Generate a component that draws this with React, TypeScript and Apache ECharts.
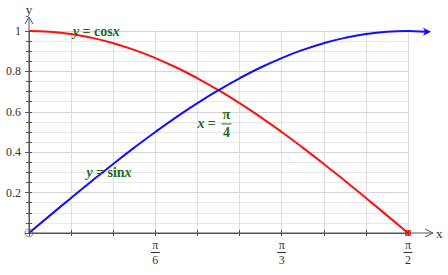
import React, { useEffect, useRef } from "react";
import * as echarts from "echarts";

// x in degrees (axis runs 0..90 = 0..π/2)
const ANGLES = [0, 5, 10, 15, 20, 25, 30, 35, 40, 45, 50, 55, 60, 65, 70, 75, 80, 85, 90];
const SIN_VALUES = [0, 0.0872, 0.1736, 0.2588, 0.342, 0.4226, 0.5, 0.5736, 0.6428, 0.7071, 0.766, 0.8192, 0.866, 0.9063, 0.9397, 0.9659, 0.9848, 0.9962, 1];
const COS_VALUES = [1, 0.9962, 0.9848, 0.9659, 0.9397, 0.9063, 0.866, 0.8192, 0.766, 0.7071, 0.6428, 0.5736, 0.5, 0.4226, 0.342, 0.2588, 0.1736, 0.0872, 0];
const SIN_TAIL: [number, number] = [95, 0.9962];
const X_TICK_LABELS: Record<number, string> = { 30: "6", 60: "3", 90: "2" };
const Y_TICK_LABELS: Record<string, string> = { "0.2": "0.2", "0.4": "0.4", "0.6": "0.6", "0.8": "0.8", "1": "1" };

const SERIF = "'Liberation Serif', 'DejaVu Serif', serif";
const GREEN = "#1e6b1e";
const AXIS = "#555";
const BLUE = "#1010ff";
const RED = "#ff1010";

export default function App() {
  const ref = useRef<HTMLDivElement>(null);
  useEffect(() => {
    if (!ref.current) return;
    const chart = echarts.init(ref.current, null, { renderer: "svg" });
    const sinData = ANGLES.map((a, i) => [a, SIN_VALUES[i]]);
    const cosData = ANGLES.map((a, i) => [a, COS_VALUES[i]]);

    const fracRich = {
      n: { fontFamily: SERIF, fontSize: 12, color: "#333", lineHeight: 12, align: "center" as const },
      bar: { width: 9, height: 1, lineHeight: 3, backgroundColor: "#333", align: "center" as const },
      d: { fontFamily: SERIF, fontSize: 12, color: "#333", lineHeight: 12, align: "center" as const },
    };

    const xBase = { type: "value", min: 0, max: 90, interval: 10, position: "bottom" };
    const yBase = { type: "value", min: 0, max: 1, interval: 0.2, position: "left" };

    chart.setOption({
      animation: false,
      grid: { left: 29, right: 40, top: 31, bottom: 42 },
      xAxis: [
        {
          ...xBase,
          name: "x",
          nameLocation: "end",
          nameGap: 28,
          nameTextStyle: { fontFamily: SERIF, fontSize: 13, color: "#333", verticalAlign: "middle" },
          axisLine: { show: true, lineStyle: { color: AXIS, width: 1 } },
          axisTick: { show: true, inside: false, length: 3, lineStyle: { color: AXIS } },
          axisLabel: {
            margin: 6,
            formatter: (v: number) => (X_TICK_LABELS[v] ? `{n|π}\n{bar| }\n{d|${X_TICK_LABELS[v]}}` : ""),
            rich: fracRich,
          },
          splitLine: { show: true, lineStyle: { color: "#dedede", width: 1 } },
        },
        {
          ...xBase,
          axisLine: { show: false },
          axisTick: { show: true, inside: true, length: 3, lineStyle: { color: AXIS } },
          axisLabel: { show: false },
          splitLine: { show: false },
        },
      ],
      yAxis: [
        {
          ...yBase,
          name: "y",
          nameLocation: "end",
          nameGap: 15,
          nameTextStyle: { fontFamily: SERIF, fontSize: 13, color: "#333", align: "center" },
          axisLine: { show: true, lineStyle: { color: AXIS, width: 1 } },
          axisTick: { show: true, inside: false, length: 4, lineStyle: { color: AXIS } },
          minorTick: { show: true, splitNumber: 4, length: 3, lineStyle: { color: AXIS } },
          axisLabel: {
            margin: 8,
            fontFamily: SERIF,
            fontSize: 12,
            color: "#333",
            formatter: (v: number) => Y_TICK_LABELS[String(Math.round(v * 10) / 10)] || "",
          },
          splitLine: { show: true, lineStyle: { color: "#d4d4d4", width: 1 } },
          minorSplitLine: { show: true, lineStyle: { color: "#e8e8e8", width: 1 } },
        },
        {
          ...yBase,
          axisLine: { show: false },
          axisTick: { show: true, inside: true, length: 3, lineStyle: { color: AXIS } },
          minorTick: { show: true, splitNumber: 4, length: 3, lineStyle: { color: AXIS } },
          axisLabel: { show: false },
          splitLine: { show: false },
        },
      ],
      series: [
        {
          type: "line",
          data: cosData,
          smooth: true,
          symbol: "none",
          clip: false,
          lineStyle: { color: RED, width: 2 },
          z: 3,
        },
        {
          type: "line",
          data: sinData,
          smooth: true,
          symbol: "none",
          clip: false,
          lineStyle: { color: BLUE, width: 2 },
          z: 3,
        },
        {
          type: "scatter",
          clip: false,
          data: [cosData[cosData.length - 1]],
          symbol: "rect",
          symbolSize: 6,
          itemStyle: { color: RED },
          z: 4,
        },
        {
          type: "scatter",
          clip: false,
          data: [sinData[0]],
          symbol: "circle",
          symbolSize: 8,
          itemStyle: { color: "rgba(255,255,255,0)", borderColor: "#666", borderWidth: 1 },
          z: 4,
        },
      ],
    });

    const px = (p: number[]) => chart.convertToPixel({ gridIndex: 0 }, p) as number[];
    const o = px([0, 0]);
    const xe = px([90, 0]);
    const ye = px([0, 1]);
    const xEnd = xe[0] + 25;
    const yEnd = ye[1] - 14;
    const cosLbl = px([16, 1]);
    const sinLbl = px([19, 0.3]);
    const eqLbl = px([40, 0.54]);
    const t0 = px(sinData[sinData.length - 1]);
    const t1 = px(SIN_TAIL);
    const lineStyle = { stroke: AXIS, lineWidth: 1, fill: "none" };
    const greenRich = {
      i: { fontFamily: SERIF, fontSize: 14, fontWeight: "bold", fontStyle: "italic", fill: GREEN },
      b: { fontFamily: SERIF, fontSize: 14, fontWeight: "bold", fill: GREEN },
    };
    chart.setOption({
      graphic: [
        { type: "polyline", shape: { points: [[o[0], o[1]], [xEnd, o[1]]] }, style: lineStyle, z: 10 },
        { type: "polyline", shape: { points: [[xEnd - 8, o[1] - 4], [xEnd, o[1]], [xEnd - 8, o[1] + 4]] }, style: lineStyle, z: 10 },
        { type: "polyline", shape: { points: [[o[0], o[1]], [o[0], yEnd]] }, style: lineStyle, z: 10 },
        { type: "polyline", shape: { points: [[o[0] - 4, yEnd + 7], [o[0], yEnd], [o[0] + 4, yEnd + 7]] }, style: lineStyle, z: 10 },
        {
          type: "polyline",
          shape: { points: [[t0[0], t0[1]], [t1[0] - 3, t1[1]]], smooth: 0.3 },
          style: { stroke: BLUE, lineWidth: 2, fill: "none" },
          z: 11,
        },
        {
          type: "polygon",
          shape: { points: [[t1[0] - 6, t1[1] - 4], [t1[0] + 2, t1[1]], [t1[0] - 6, t1[1] + 4], [t1[0] - 4, t1[1]]] },
          style: { fill: BLUE },
          z: 11,
        },
        {
          type: "text",
          x: cosLbl[0],
          y: cosLbl[1],
          z: 20,
          style: { text: "{i|y} {b|= cos}{i|x}", align: "center", verticalAlign: "middle", rich: greenRich },
        },
        {
          type: "text",
          x: sinLbl[0],
          y: sinLbl[1],
          z: 20,
          style: { text: "{i|y} {b|= sin}{i|x}", align: "center", verticalAlign: "middle", rich: greenRich },
        },
        {
          type: "text",
          x: eqLbl[0],
          y: eqLbl[1],
          z: 20,
          style: { text: "{i|x} {b|=}", align: "left", verticalAlign: "middle", rich: greenRich },
        },
        {
          type: "text",
          x: eqLbl[0] + 29,
          y: eqLbl[1],
          z: 20,
          style: {
            text: "{n|π}\n{bar| }\n{d|4}",
            align: "center",
            verticalAlign: "middle",
            rich: {
              n: { fontFamily: SERIF, fontSize: 14, fontWeight: "bold", fill: GREEN, lineHeight: 14, align: "center" },
              bar: { width: 10, height: 1, lineHeight: 4, backgroundColor: GREEN, align: "center" },
              d: { fontFamily: SERIF, fontSize: 14, fontWeight: "bold", fill: GREEN, lineHeight: 14, align: "center" },
            },
          },
        },
      ],
    });
    return () => chart.dispose();
  }, []);
  return <div ref={ref} style={{ width: 448, height: 275, position: "absolute", left: 0, top: 0 }} />;
}
